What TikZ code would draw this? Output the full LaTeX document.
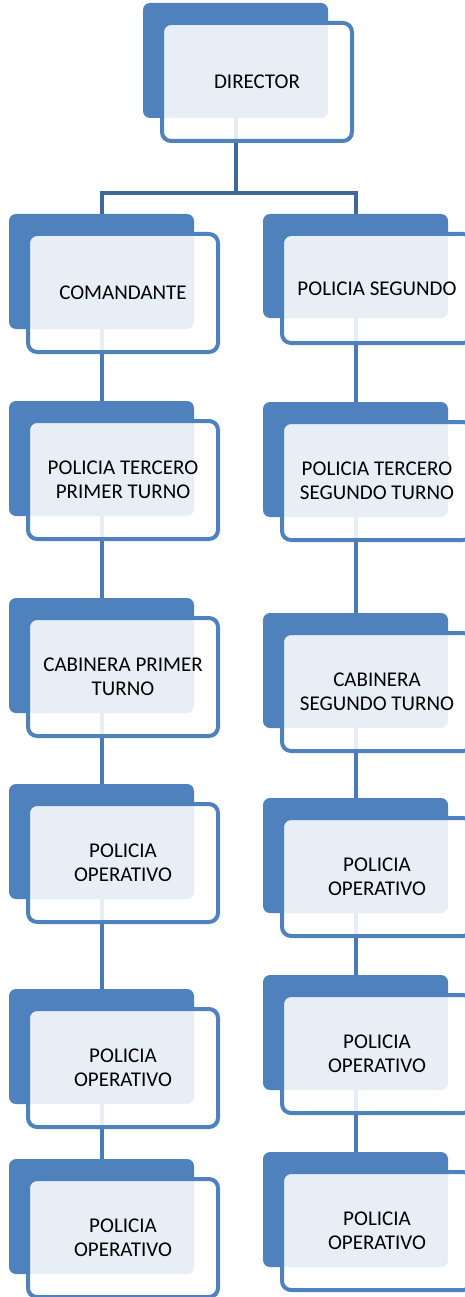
\documentclass[tikz,border=0pt]{standalone}
\usepackage{fontspec}
\setmainfont{Carlito}
\usetikzlibrary{backgrounds}
\definecolor{boxblue}{HTML}{4F81BD}
\definecolor{linkblue}{HTML}{4A7AB4}
\definecolor{treeblue}{HTML}{3F6899}
\tikzset{
  backbox/.style={rectangle, rounded corners=7pt, fill=boxblue, draw=none, inner sep=0pt, outer sep=0pt, minimum width=185pt, anchor=north west},
  frontbox/.style={rectangle, rounded corners=9pt, draw=boxblue, line width=4pt, fill=white, fill opacity=0.87, text opacity=1, inner sep=0pt, outer sep=0pt, minimum width=190pt, anchor=north west, align=center, font=\fontsize{21}{24}\selectfont},
  link/.style={draw=linkblue, line width=4pt},
  treelink/.style={draw=treeblue, line width=4pt},
}
\newcommand\orgunit[6]{%
  \node[backbox, minimum height=#4pt] (#1b) at (#2,#3) {};
  \node[frontbox, minimum height=#5pt] (#1) at (#2+19,#3+20) {#6};
}
\begin{document}
\begin{tikzpicture}[x=1pt,y=-1pt]
\clip (0,0) rectangle (465,1297);
% director
\orgunit{D}{143}{3}{115}{118}{DIRECTOR}
% left column
\orgunit{La}{9}{214}{115}{118}{COMANDANTE}
\orgunit{Lb}{9}{401}{115}{118}{POLICIA TERCERO\\PRIMER TURNO}
\orgunit{Lc}{9}{598}{115}{118}{CABINERA PRIMER\\TURNO}
\orgunit{Ld}{9}{784}{115}{118}{POLICIA\\OPERATIVO}
\orgunit{Le}{9}{989}{115}{118}{POLICIA\\OPERATIVO}
\orgunit{Lf}{9}{1159}{115}{118}{POLICIA\\OPERATIVO}
% right column
\orgunit{Ra}{263}{214}{104}{109}{POLICIA SEGUNDO}
\orgunit{Rb}{263}{402}{115}{118}{POLICIA TERCERO\\SEGUNDO TURNO}
\orgunit{Rc}{263}{613}{115}{118}{CABINERA\\SEGUNDO TURNO}
\orgunit{Rd}{263}{798}{115}{118}{POLICIA\\OPERATIVO}
\orgunit{Re}{263}{975}{115}{118}{POLICIA\\OPERATIVO}
\orgunit{Rf}{263}{1152}{115}{118}{POLICIA\\OPERATIVO}
\begin{scope}[on background layer]
  \coordinate (hub) at (235.5,193);
  \draw[treelink] (Db.south) -- (hub);
  \draw[treelink] (Lab.north) |- (hub) -| (Rab.north);
  \draw[link] (Lab.south) -- (Lbb.north);
  \draw[link] (Lbb.south) -- (Lcb.north);
  \draw[link] (Lcb.south) -- (Ldb.north);
  \draw[link] (Ldb.south) -- (Leb.north);
  \draw[link] (Leb.south) -- (Lfb.north);
  \draw[link] (Rab.south) -- (Rbb.north);
  \draw[link] (Rbb.south) -- (Rcb.north);
  \draw[link] (Rcb.south) -- (Rdb.north);
  \draw[link] (Rdb.south) -- (Reb.north);
  \draw[link] (Reb.south) -- (Rfb.north);
\end{scope}
\end{tikzpicture}
\end{document}
